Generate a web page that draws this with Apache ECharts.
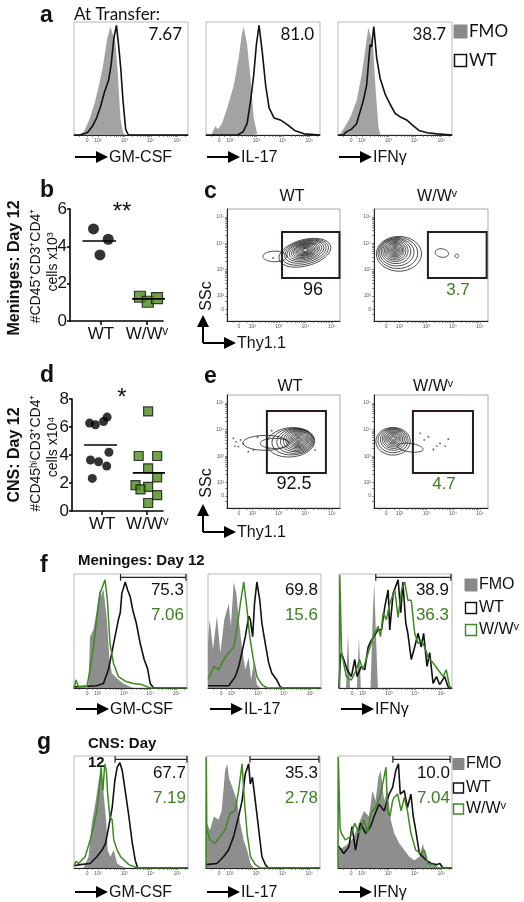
<!DOCTYPE html>
<html><head><meta charset="utf-8">
<script src="https://cdn.jsdelivr.net/npm/echarts@6/dist/echarts.min.js"></script>
<style>html,body{margin:0;padding:0;background:#fff}#c{width:524px;height:902px}</style>
</head><body><div id="c"></div><script>
// ---------------- DATA ----------------
const groups = ['WT', 'W/Wᵛ'];
const markers = ['GM-CSF', 'IL-17', 'IFNγ'];
const HIST_TICKS = [1.6, 2, 3, 4, 5];
const TICK_LABELS = ['0', '10²', '10³', '10⁴', '10⁵'];
const CONTOUR_TICKS = [1.5, 2, 3, 4, 5];

// panel a (At transfer) histograms: [log-position, % of max]
const aGmFmo = [[1.35,0],[1.5,4],[1.7,15],[1.9,30],[2.05,45],[2.2,62],[2.35,85],[2.47,96],[2.55,90],[2.65,85],[2.75,55],[2.85,15],[2.95,2],[3.05,0]];
const aGmWt = [[1.1,0],[1.3,0],[1.6,2],[1.8,8],[1.95,15],[2.1,25],[2.25,38],[2.4,48],[2.5,62],[2.6,85],[2.7,97],[2.78,80],[2.86,60],[2.95,30],[3.05,5],[3.15,0],[5.4,0]];
const aIlFmo = [[1.3,0],[1.45,8],[1.55,5],[1.7,10],[1.9,24],[2.15,44],[2.33,68],[2.45,89],[2.52,96],[2.65,80],[2.78,50],[2.9,15],[3.03,1],[3.1,0]];
const aIlWt = [[1.1,0],[2.3,0],[2.5,3],[2.65,10],[2.78,30],[2.9,53],[3.0,80],[3.1,97],[3.22,74],[3.35,44],[3.48,24],[3.67,15],[3.93,13],[4.18,9],[4.44,4],[4.8,1],[5.4,0]];
const aIfnFmo = [[1.15,0],[1.3,5],[1.55,15],[1.8,30],[1.99,53],[2.12,74],[2.24,95],[2.33,88],[2.42,80],[2.52,40],[2.62,8],[2.7,0]];
const aIfnWt = [[1.1,0],[1.3,0],[1.42,3],[1.6,5],[1.8,10],[2.05,30],[2.18,44],[2.31,80],[2.37,78],[2.45,96],[2.56,68],[2.69,50],[2.88,36],[3.07,27],[3.26,19],[3.45,16],[3.71,13],[3.9,9],[4.15,4],[4.47,2],[4.85,1],[5.4,0]];

// panel f (Meninges day 12)
const fGmFmo = [[1.6,0],[1.65,3],[1.71,45],[1.84,51],[1.96,68],[2.07,86],[2.12,80],[2.22,87],[2.35,60],[2.45,25],[2.54,13],[2.66,10],[2.86,6],[3.05,3],[3.36,0]];
const fGmWt = [[1.1,1],[1.96,2],[2.22,4],[2.41,16],[2.54,31],[2.66,45],[2.79,60],[2.86,66],[2.92,83],[3.05,93],[3.14,86],[3.24,80],[3.34,68],[3.47,57],[3.62,39],[3.77,25],[3.9,17],[4.0,4],[4.13,0],[5.4,0]];
const fGmWw = [[1.1,0],[1.18,7],[1.27,1],[1.59,1],[1.71,16],[1.84,36],[1.96,60],[2.09,83],[2.28,95],[2.37,77],[2.47,39],[2.6,22],[2.79,10],[3.05,6],[3.36,4],[3.68,3],[4.0,0],[5.4,0]];
const fIlFmo = [[1.1,40],[1.16,60],[1.29,34],[1.44,63],[1.57,31],[1.72,60],[1.89,74],[1.97,54],[2.08,93],[2.18,83],[2.27,60],[2.39,36],[2.52,16],[2.65,27],[2.74,7],[2.84,22],[2.96,3],[3.09,0]];
const fIlWt = [[1.1,2],[1.9,2],[1.95,4],[2.14,10],[2.27,19],[2.39,31],[2.52,45],[2.65,63],[2.71,60],[2.8,45],[2.87,74],[2.96,93],[3.07,77],[3.15,57],[3.28,39],[3.41,22],[3.53,13],[3.72,7],[3.85,1],[3.95,0],[5.4,0]];
const fIlWw = [[1.1,8],[1.16,10],[1.32,19],[1.51,16],[1.7,25],[1.89,31],[2.08,36],[2.2,51],[2.33,74],[2.46,93],[2.56,74],[2.69,45],[2.81,27],[2.96,10],[3.15,3],[3.35,0],[5.4,0]];
const fIfnFmo = [[1.1,0],[1.37,0],[1.44,48],[1.52,0],[1.78,0],[1.86,45],[1.93,0],[2.3,0],[2.38,60],[2.44,93],[2.5,50],[2.58,0],[5.4,0]];
const fIfnWt = [[1.1,0],[1.15,25],[1.19,31],[1.28,25],[1.41,16],[1.57,10],[1.7,25],[1.79,10],[1.95,19],[2.08,16],[2.21,36],[2.33,42],[2.45,46],[2.59,51],[2.72,51],[2.84,71],[2.97,86],[3.03,51],[3.16,83],[3.35,95],[3.45,66],[3.53,93],[3.64,57],[3.72,48],[3.85,25],[3.98,36],[4.11,48],[4.23,36],[4.32,48],[4.45,19],[4.55,31],[4.68,4],[4.81,10],[4.93,3],[5.12,10],[5.25,1],[5.4,0]];
const fIfnWw = [[1.12,0],[1.13,99],[1.17,99],[1.2,30],[1.25,25],[1.38,10],[1.57,7],[1.76,16],[1.88,25],[2.01,16],[2.21,31],[2.4,45],[2.59,54],[2.68,45],[2.78,66],[2.9,60],[3.03,74],[3.22,86],[3.35,62],[3.48,86],[3.6,93],[3.72,77],[3.85,77],[3.98,48],[4.11,39],[4.23,42],[4.36,36],[4.49,27],[4.68,22],[4.87,16],[5.06,10],[5.18,16],[5.31,1],[5.4,0]];

// panel g (CNS day 12)
const gGmFmo = [[1.45,0],[1.52,3],[1.65,10],[1.77,40],[1.9,57],[2.03,78],[2.12,87],[2.22,66],[2.32,40],[2.37,16],[2.47,10],[2.6,16],[2.73,4],[2.86,2],[3.05,0]];
const gGmWt = [[1.1,2],[1.33,3],[1.71,4],[1.96,10],[2.16,16],[2.29,22],[2.41,37],[2.54,54],[2.64,78],[2.73,90],[2.83,94],[2.92,87],[3.05,66],[3.17,46],[3.3,22],[3.41,7],[3.5,0],[5.4,0]];
const gGmWw = [[1.1,2],[1.18,6],[1.27,4],[1.39,7],[1.52,10],[1.71,25],[1.84,37],[1.96,51],[2.06,72],[2.12,90],[2.19,69],[2.26,93],[2.32,87],[2.37,66],[2.45,46],[2.54,43],[2.6,25],[2.73,16],[2.86,10],[2.99,7],[3.17,3],[3.5,0],[5.4,0]];
const gIlFmo = [[1.1,45],[1.13,40],[1.25,34],[1.4,46],[1.57,43],[1.69,51],[1.76,70],[1.82,87],[1.9,93],[1.97,80],[2.05,75],[2.14,69],[2.27,60],[2.39,40],[2.52,25],[2.65,16],[2.78,4],[2.9,0]];
const gIlWt = [[1.1,3],[1.51,4],[1.76,10],[1.95,16],[2.14,28],[2.33,46],[2.46,60],[2.58,84],[2.71,93],[2.77,75],[2.85,81],[2.96,60],[3.09,34],[3.21,10],[3.34,3],[3.45,0],[5.4,0]];
const gIlWw = [[1.1,0],[1.11,99],[1.13,34],[1.25,25],[1.44,22],[1.63,28],[1.82,34],[2.01,49],[2.2,51],[2.33,69],[2.46,93],[2.55,60],[2.65,31],[2.78,10],[2.96,3],[3.15,0],[5.4,0]];
const gIfnFmo = [[1.1,16],[1.15,16],[1.32,19],[1.51,22],[1.7,28],[1.89,40],[2.08,51],[2.27,46],[2.4,69],[2.52,60],[2.62,81],[2.71,87],[2.84,60],[2.97,69],[3.09,43],[3.22,31],[3.41,22],[3.6,16],[3.79,10],[3.98,7],[4.17,10],[4.3,22],[4.43,7],[4.62,3],[4.81,0],[5.4,0]];
const gIfnWt = [[1.1,20],[1.15,19],[1.32,13],[1.51,19],[1.63,37],[1.76,16],[1.95,40],[2.14,31],[2.33,37],[2.46,46],[2.65,57],[2.84,51],[3.03,66],[3.16,72],[3.28,87],[3.38,93],[3.45,66],[3.6,69],[3.72,54],[3.85,66],[3.94,46],[4.03,34],[4.17,13],[4.3,10],[4.43,7],[4.62,4],[4.81,3],[4.94,4],[5.06,0],[5.4,0]];
const gIfnWw = [[1.1,0],[1.11,99],[1.15,99],[1.18,35],[1.23,31],[1.38,25],[1.57,28],[1.73,40],[1.89,31],[2.08,43],[2.21,31],[2.33,49],[2.52,54],[2.71,66],[2.91,90],[2.97,51],[3.06,46],[3.16,60],[3.22,63],[3.35,66],[3.48,51],[3.6,63],[3.72,51],[3.85,31],[4.03,16],[4.23,13],[4.36,16],[4.49,4],[4.68,3],[4.87,0],[5.4,0]];

// gate brackets (log positions), null = no bracket
const fBrackets = [[2.87,5.36], null, [2.5,5.36]];
const gBrackets = [[2.65,5.36], [2.76,5.36], [3.17,5.33]];

// percentages
const aStats = ['7.67', '81.0', '38.7'];
const fStatsWt = ['75.3', '69.8', '38.9'];
const fStatsWw = ['7.06', '15.6', '36.3'];
const gStatsWt = ['67.7', '35.3', '10.0'];
const gStatsWw = ['7.19', '2.78', '7.04'];

// dot plots [x-jitter, value]
const bWT = [[0.84,4.93],[1.16,4.38],[0.98,3.54]];
const bWW = [[1.85,1.3],[2.02,1.03],[2.22,1.23]];
const dWT = [[0.72,6.28],[0.85,6.16],[1.03,6.39],[1.11,6.71],[0.74,3.64],[0.92,3.52],[1.1,3.21],[1.15,4.2],[0.78,2.33]];
const dWW = [[2.02,7.11],[1.81,3.93],[2.22,3.93],[2.02,3.05],[2.22,2.4],[2.02,1.73],[2.22,1.13],[1.74,1.85],[1.85,1.54],[2.02,0.57]];

// contour levels [cx, cy, rx, ry, angle]
const cWT = [[3.98,3.64,1.0,0.5,15],[3.99,3.66,0.9,0.45,15],[4.0,3.68,0.8,0.4,15],[4.0,3.7,0.71,0.36,15],[4.0,3.71,0.62,0.32,15],[4.0,3.72,0.54,0.28,15],[4.0,3.73,0.47,0.25,15],[4.0,3.74,0.41,0.22,15],[4.0,3.74,0.35,0.19,15],[4.0,3.74,0.3,0.16,15],[4.0,3.74,0.25,0.14,15],[4.0,3.74,0.2,0.11,15],[4.0,3.74,0.15,0.09,15],[4.0,3.74,0.11,0.07,15],[4.0,3.74,0.07,0.05,15],[2.85,3.5,0.45,0.2,0]];
const cWTdots = [[2.78,3.44]];
const cWW = [[1.98,3.6,0.84,0.66,0],[1.94,3.63,0.74,0.59,0],[1.9,3.66,0.64,0.52,0],[1.87,3.69,0.55,0.46,0],[1.85,3.71,0.47,0.4,0],[1.84,3.72,0.4,0.35,0],[1.83,3.73,0.34,0.3,0],[1.83,3.74,0.29,0.26,0],[1.83,3.74,0.24,0.22,0],[1.83,3.74,0.19,0.18,0],[1.83,3.74,0.15,0.14,0],[1.83,3.74,0.11,0.1,0],[1.83,3.74,0.07,0.07,0],[1.83,3.74,0.04,0.04,0],[3.58,3.63,0.25,0.16,-10],[4.14,3.52,0.07,0.07,0]];
const cWWdots = [];
const eWT = [[3.45,3.52,0.9,0.55,5],[3.53,3.55,0.79,0.5,5],[3.6,3.57,0.68,0.46,5],[3.65,3.59,0.59,0.42,5],[3.68,3.6,0.51,0.38,5],[3.7,3.61,0.44,0.34,5],[3.72,3.62,0.38,0.3,5],[3.73,3.62,0.32,0.26,5],[3.73,3.62,0.27,0.22,5],[3.73,3.62,0.22,0.18,5],[3.73,3.62,0.17,0.14,5],[3.73,3.62,0.12,0.1,5],[3.73,3.62,0.08,0.07,5],[3.73,3.62,0.04,0.04,5],[2.5,3.5,0.85,0.28,0],[2.85,3.48,0.55,0.19,0]];
const eWTdots = [[1.29,3.67],[1.39,3.54],[1.48,3.36],[1.56,3.61],[1.66,3.46],[1.35,3.38],[1.85,3.17],[2.04,3.23],[2.73,3.96],[4.36,3.23],[2.2,3.72]];
const eWW = [[1.76,3.56,0.64,0.52,0],[1.76,3.59,0.56,0.46,0],[1.77,3.62,0.48,0.4,0],[1.77,3.64,0.41,0.35,0],[1.77,3.65,0.35,0.3,0],[1.77,3.66,0.29,0.25,0],[1.77,3.67,0.24,0.21,0],[1.77,3.67,0.19,0.17,0],[1.77,3.67,0.14,0.13,0],[1.77,3.67,0.1,0.09,0],[1.77,3.67,0.06,0.05,0],[2.4,3.32,0.48,0.16,-8]];
const eWWdots = [[2.77,3.86],[2.92,3.61],[3.07,3.73],[3.26,3.25],[3.51,3.48],[3.7,3.38],[3.82,3.64],[3.39,3.38],[2.52,3.48]];
const cGates = [[3.12,5.28,2.68,4.43],[3.06,5.25,2.68,4.43]];
const eGates = [[2.55,4.77,2.37,4.7],[2.5,4.74,2.37,4.7]];
const cGateVals = ['96', '3.7'];
const eGateVals = ['92.5', '4.7'];

// ---------------- BUILD ----------------
const FONT = '"Liberation Sans", Arial, sans-serif';
const GREEN = '#3d8a22';
const GREEN_T = '#3b7f1f';
const grids = [], xAxes = [], yAxes = [], series = [], graphics = [];

function addGrid(rect, xa, ya, border) {
  const i = grids.length;
  grids.push(Object.assign({ show: !!border, borderColor: border || '#ccc', borderWidth: 1, containLabel: false }, rect));
  xa.gridIndex = i; ya.gridIndex = i; xAxes.push(xa); yAxes.push(ya);
  return i;
}
function minorTicks(zero) {
  const out = [zero, 1.3, 1.8];
  for (let d = 2; d <= 5; d++) for (let k = 1; k < 10; k++) { const v = d + Math.log10(k); if (v <= 5.35) out.push(v); }
  return out;
}
function logAxis(min, max, ticks) {
  return {
    type: 'value', min, max,
    axisLine: { show: true, onZero: false, lineStyle: { color: '#222', width: 1 } },
    splitLine: { show: false },
    axisTick: { show: true, customValues: minorTicks(ticks[0]), length: 2, lineStyle: { color: '#444', width: 0.6 } },
    axisLabel: { show: true, customValues: ticks, formatter: v => TICK_LABELS[ticks.indexOf(v)], fontSize: 5, color: '#555', margin: 3, fontFamily: FONT }
  };
}
function T(x, y, text, o = {}) {
  graphics.push({
    type: 'text', x, y, rotation: o.rot || 0, z: 100,
    style: {
      text, fill: o.color || '#111', fontSize: o.size || 16, fontFamily: o.family || FONT,
      fontWeight: o.weight || 'normal', align: o.align || 'left', verticalAlign: o.va || 'middle'
    }
  });
}
function arrowH(x, y) {
  graphics.push({ type: 'line', z: 100, shape: { x1: x, y1: y, x2: x + 23, y2: y }, style: { stroke: '#000', lineWidth: 2 } });
  graphics.push({ type: 'polygon', z: 100, shape: { points: [[x + 21, y - 6], [x + 33, y], [x + 21, y + 6]] }, style: { fill: '#000' } });
}
function arrowV(x, y, len) {
  graphics.push({ type: 'line', z: 100, shape: { x1: x, y1: y, x2: x, y2: y - len + 11 }, style: { stroke: '#000', lineWidth: 2 } });
  graphics.push({ type: 'polygon', z: 100, shape: { points: [[x - 6, y - len + 12], [x, y - len], [x + 6, y - len + 12]] }, style: { fill: '#000' } });
}
function lineS(gi, data, color, width, area) {
  const s = { type: 'line', xAxisIndex: gi, yAxisIndex: gi, data, showSymbol: false, symbol: 'none', silent: true, animation: false,
    lineStyle: { color, width }, itemStyle: { color } };
  if (area) { s.areaStyle = { color: area, opacity: 1 }; s.lineStyle = { width: 0, color: area }; }
  series.push(s);
  return s;
}
function bracket(gi, br) {
  if (!br) return;
  lineS(gi, [[br[0], 94], [br[0], 100], [br[0], 97], [br[1], 97], [br[1], 100], [br[1], 94]], '#222', 1.2);
}
function histPanel(left, top, w, h, fmo, wt, ww, fmoColor, br) {
  const gi = addGrid({ left, top, width: w, height: h }, logAxis(1.1, 5.4, HIST_TICKS), { type: 'value', min: 0, max: 100, show: false }, '#b8b8b8');
  lineS(gi, fmo, null, 0, fmoColor);
  lineS(gi, wt, '#111', 1.6);
  if (ww) lineS(gi, ww, GREEN, 1.5);
  bracket(gi, br);
  return gi;
}

// ---- panel a
const aLefts = [74, 206, 338];
const aFmo = [aGmFmo, aIlFmo, aIfnFmo], aWt = [aGmWt, aIlWt, aIfnWt];
aLefts.forEach((l, k) => {
  histPanel(l, 22, 114, 113, aFmo[k], aWt[k], null, '#a3a3a3', null);
  T(l + 108, 35, aStats[k], { align: 'right', size: 17, family: 'Lato, ' + FONT });
  arrowH(l + 1, 157); T(l + 35, 158, markers[k], { size: 16 });
});
T(40, 16, 'a', { size: 23, weight: 'bold' });
T(74, 15, 'At Transfer:', { size: 17, family: 'Lato, ' + FONT });
graphics.push({ type: 'rect', z: 100, shape: { x: 454, y: 25, width: 13, height: 13 }, style: { fill: '#8a8a8a', stroke: '#8a8a8a' } });
graphics.push({ type: 'rect', z: 100, shape: { x: 454.5, y: 54.5, width: 12, height: 12 }, style: { fill: '#fff', stroke: '#111', lineWidth: 1.5 } });
T(469, 32, 'FMO', { size: 17, family: 'Lato, ' + FONT });
T(469, 61, 'WT', { size: 17, family: 'Lato, ' + FONT });

// ---- panels f, g
const fLefts = [74, 208, 339];
const fF = [fGmFmo, fIlFmo, fIfnFmo], fW = [fGmWt, fIlWt, fIfnWt], fV = [fGmWw, fIlWw, fIfnWw];
fLefts.forEach((l, k) => {
  histPanel(l, 574, 113, 114, fF[k], fW[k], fV[k], '#8e8e8e', fBrackets[k]);
  T(l + 110, 590, fStatsWt[k], { align: 'right', size: 17 });
  T(l + 110, 615, fStatsWw[k], { align: 'right', size: 17, color: GREEN_T });
  arrowH(l + 2, 709); T(l + 36, 710, markers[k], { size: 16 });
});
const gLefts = [74, 206, 338];
const gF = [gGmFmo, gIlFmo, gIfnFmo], gW = [gGmWt, gIlWt, gIfnWt], gV = [gGmWw, gIlWw, gIfnWw];
gLefts.forEach((l, k) => {
  histPanel(l, 756, 114, 112, gF[k], gW[k], gV[k], '#8e8e8e', gBrackets[k]);
  T(l + 112, 773, gStatsWt[k], { align: 'right', size: 17 });
  T(l + 112, 798, gStatsWw[k], { align: 'right', size: 17, color: GREEN_T });
  arrowH(l + 1, 892); T(l + 35, 893, markers[k], { size: 16 });
});
T(40, 566, 'f', { size: 23, weight: 'bold' });
T(78, 561, 'Meninges: Day 12', { size: 15, weight: 'bold' });
T(37, 743, 'g', { size: 23, weight: 'bold' });
T(88, 744, 'CNS: Day', { size: 15, weight: 'bold' });
T(88, 763, '12', { size: 15, weight: 'bold' });
function legend3(x, ys, sq) {
  graphics.push({ type: 'rect', z: 100, shape: { x, y: ys[0] - sq / 2, width: sq, height: sq }, style: { fill: '#888', stroke: '#888' } });
  graphics.push({ type: 'rect', z: 100, shape: { x: x + 0.5, y: ys[1] - sq / 2 + 0.5, width: sq - 1, height: sq - 1 }, style: { fill: '#fff', stroke: '#111', lineWidth: 1.4 } });
  graphics.push({ type: 'rect', z: 100, shape: { x: x + 0.5, y: ys[2] - sq / 2 + 0.5, width: sq - 1, height: sq - 1 }, style: { fill: '#fff', stroke: GREEN, lineWidth: 1.4 } });
  T(x + sq + 2, ys[0], 'FMO', { size: 16 });
  T(x + sq + 2, ys[1], groups[0], { size: 16 });
  T(x + sq + 2, ys[2], groups[1], { size: 16 });
}
legend3(465, [585, 608, 630], 12);
legend3(453, [764, 788, 809], 11);

// ---- dot plots b, d
function dotPanel(rect, ymax, wt, ww, sym) {
  const gi = addGrid(rect, {
    type: 'value', min: 0.33, max: 2.35,
    axisLine: { show: true, onZero: false, lineStyle: { color: '#000', width: 1.6 } },
    splitLine: { show: false },
    axisTick: { show: true, customValues: [1, 2], length: 4, lineStyle: { color: '#000', width: 1.5 } },
    axisLabel: { show: true, customValues: [1, 2], margin: 5, fontSize: 17, color: '#111', fontFamily: FONT, formatter: v => groups[v - 1] }
  }, {
    type: 'value', min: 0, max: ymax, interval: 2,
    axisLine: { show: true, lineStyle: { color: '#000', width: 1.6 } },
    splitLine: { show: false },
    axisTick: { show: true, length: 3, lineStyle: { color: '#000', width: 1.5 } },
    axisLabel: { fontSize: 17, color: '#111', fontFamily: FONT, margin: 3 }
  });
  series.push({ type: 'scatter', xAxisIndex: gi, yAxisIndex: gi, data: wt, symbol: 'circle', symbolSize: sym, itemStyle: { color: '#000' }, silent: true, animation: false, z: 3 });
  series.push({ type: 'scatter', xAxisIndex: gi, yAxisIndex: gi, data: ww, symbol: 'rect', symbolSize: sym, itemStyle: { color: '#4b8b1c', borderColor: '#111', borderWidth: 1.2 }, silent: true, animation: false, z: 3 });
  const m1 = wt.reduce((s, p) => s + p[1], 0) / wt.length;
  const m2 = ww.reduce((s, p) => s + p[1], 0) / ww.length;
  lineS(gi, [[0.6, m1], [1.33, m1]], '#000', 1.6).z = 4;
  lineS(gi, [[1.68, m2], [2.4, m2]], '#000', 1.6).z = 4;
  return gi;
}
dotPanel({ left: 70, top: 209, width: 93, height: 112 }, 6, bWT, bWW, 11);
dotPanel({ left: 72, top: 399, width: 91, height: 112 }, 8, dWT, dWW, 9);
T(40, 191, 'b', { size: 23, weight: 'bold' });
T(40, 376, 'd', { size: 23, weight: 'bold' });
T(122, 212, '**', { size: 24, align: 'center' });
T(122, 398, '*', { size: 24, align: 'center' });
const R = Math.PI / 2;
T(15, 268, 'Meninges: Day 12', { size: 16, weight: 'bold', align: 'center', rot: R });
T(36, 266, '#CD45⁺CD3⁺CD4⁺', { size: 14, align: 'center', rot: R });
T(53, 262, 'cells x10³', { size: 14, align: 'center', rot: R });
T(15, 455, 'CNS: Day 12', { size: 16, weight: 'bold', align: 'center', rot: R });
T(36, 453, '#CD45ʰⁱCD3⁺CD4⁺', { size: 14, align: 'center', rot: R });
T(53, 447, 'cells x10⁴', { size: 14, align: 'center', rot: R });

// ---- contour panels c, e
function ellipseItem(params, api) {
  const cx = api.value(0), cy = api.value(1), rx = api.value(2), ry = api.value(3), ang = api.value(4) * Math.PI / 180;
  const pts = [];
  for (let k = 0; k < 48; k++) {
    const t = k / 48 * 2 * Math.PI, dx = rx * Math.cos(t), dy = ry * Math.sin(t);
    pts.push(api.coord([cx + dx * Math.cos(ang) - dy * Math.sin(ang), cy + dx * Math.sin(ang) + dy * Math.cos(ang)]));
  }
  return { type: 'polygon', shape: { points: pts }, style: { fill: 'none', stroke: '#1e1e1e', lineWidth: 0.8 } };
}
function gateItem(params, api) {
  const p1 = api.coord([api.value(0), api.value(3)]), p2 = api.coord([api.value(1), api.value(2)]);
  return { type: 'rect', shape: { x: p1[0], y: p1[1], width: p2[0] - p1[0], height: p2[1] - p1[1] }, style: { fill: 'none', stroke: '#2b1a1a', lineWidth: 2 } };
}
function contourPanel(rect, levels, dots, gate) {
  const gi = addGrid(rect, logAxis(1.05, 5.3, CONTOUR_TICKS), logAxis(1.05, 5.3, CONTOUR_TICKS), '#a8a8a8');
  series.push({ type: 'custom', xAxisIndex: gi, yAxisIndex: gi, data: levels, renderItem: ellipseItem, encode: { x: 0, y: 1 }, silent: true, animation: false, clip: true });
  if (dots.length) series.push({ type: 'scatter', xAxisIndex: gi, yAxisIndex: gi, data: dots, symbolSize: 1.8, itemStyle: { color: '#333' }, silent: true, animation: false });
  series.push({ type: 'custom', xAxisIndex: gi, yAxisIndex: gi, data: [gate], renderItem: gateItem, encode: { x: [0, 1], y: [2, 3] }, silent: true, animation: false, z: 5 });
  return gi;
}
contourPanel({ left: 227, top: 209, width: 113, height: 112 }, cWT, cWTdots, cGates[0]);
contourPanel({ left: 374, top: 209, width: 114, height: 112 }, cWW, cWWdots, cGates[1]);
contourPanel({ left: 227, top: 395, width: 113, height: 113 }, eWT, eWTdots, eGates[0]);
contourPanel({ left: 374, top: 395, width: 114, height: 113 }, eWW, eWWdots, eGates[1]);
T(204, 192, 'c', { size: 23, weight: 'bold' });
T(204, 377, 'e', { size: 23, weight: 'bold' });
T(292, 197, groups[0], { size: 16, align: 'center' });
T(437, 197, groups[1], { size: 16, align: 'center' });
T(290, 387, groups[0], { size: 16, align: 'center' });
T(433, 387, groups[1], { size: 16, align: 'center' });
T(313, 290, cGateVals[0], { size: 18, align: 'center' });
T(458, 290, cGateVals[1], { size: 17, align: 'center', color: GREEN_T });
T(294, 484, eGateVals[0], { size: 18, align: 'center' });
T(444, 484, eGateVals[1], { size: 17, align: 'center', color: GREEN_T });
[[203, 343, 296], [203, 532, 483]].forEach(([x, y, sy]) => {
  arrowV(x, y, 28); arrowH(x, y);
  T(x + 4, sy, 'SSc', { size: 16, align: 'center', rot: R });
  T(x + 34, y + 1, 'Thy1.1', { size: 16 });
});

const chart = echarts.init(document.getElementById('c'), null, { renderer: 'canvas' });
chart.setOption({ animation: false, backgroundColor: '#fff', grid: grids, xAxis: xAxes, yAxis: yAxes, series, graphic: graphics });
</script></body></html>
